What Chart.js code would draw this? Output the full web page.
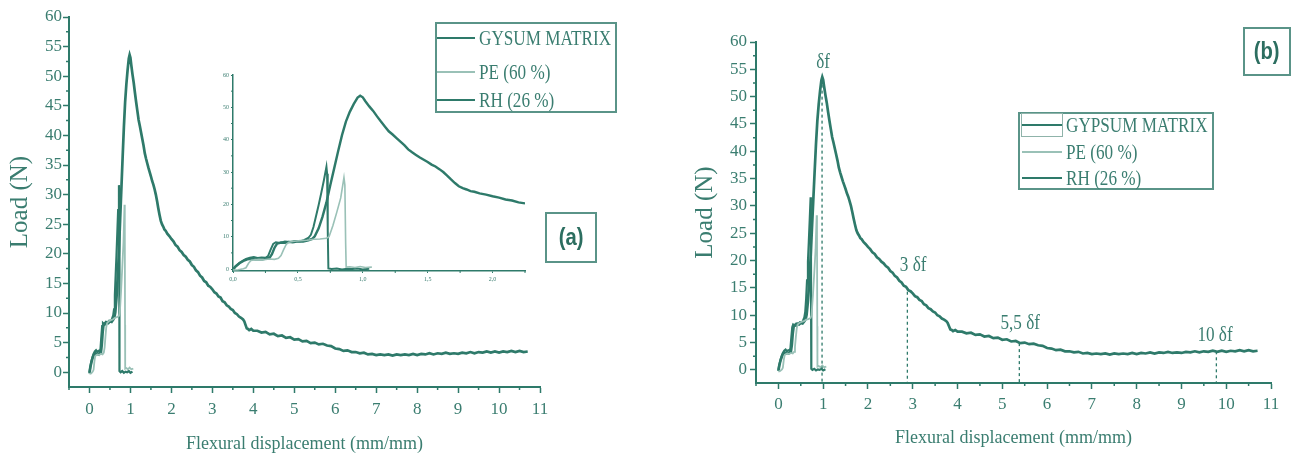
<!DOCTYPE html>
<html><head><meta charset="utf-8">
<script src="https://cdn.jsdelivr.net/npm/chart.js@4"></script>
<style>
body{margin:0;width:1291px;height:456px;background:#fff;position:relative;overflow:hidden;font-family:"Liberation Serif",serif;}
canvas{position:absolute;}
.box{position:absolute;border:2px solid #5a9488;box-sizing:border-box;}
.leg-line{position:absolute;height:2px;}
.leg-text{position:absolute;font-size:22px;line-height:22px;color:#3a7d70;transform:scaleX(0.78);transform-origin:0 50%;white-space:nowrap;}
.tag{display:flex;align-items:center;justify-content:center;font-family:"Liberation Sans",sans-serif;font-weight:bold;font-size:23px;color:#2c6e60;}
.tag span{display:inline-block;transform:scaleX(0.88);}
.samplebox{position:absolute;border:1px solid #8fb3aa;box-sizing:border-box;}
</style>
</head><body>
<canvas id="ca" width="650" height="456" style="left:0;top:0"></canvas>
<canvas id="ci" width="330" height="225" style="left:205px;top:65px"></canvas>
<canvas id="cb" width="641" height="456" style="left:650px;top:0"></canvas>
<div id="overlay"></div>
<script>
// ---------- data ----------
const legendA = ['GYSUM MATRIX', 'PE (60 %)', 'RH (26 %)'];
const legendB = ['GYPSUM MATRIX', 'PE (60 %)', 'RH (26 %)'];

const gypsumData = [[0,0],[0.02,0.9],[0.05,1.9],[0.08,2.7],[0.1,3.1],[0.13,3.5],[0.16,3.7],[0.19,3.4],[0.22,3.6],[0.25,3.5],[0.27,4.0],[0.29,6.0],[0.31,7.8],[0.33,8.3],[0.36,8.1],[0.4,8.5],[0.44,8.4],[0.48,8.7],[0.52,8.6],[0.55,9.0],[0.58,9.6],[0.6,10.6],[0.62,13.0],[0.64,16.4],[0.66,19.8],[0.68,23.5],[0.7,27.4],[0.72,31.6],[0.725,29.5],[0.73,12],[0.735,0.2],[0.76,0],[0.8,0.2],[0.84,-0.1],[0.88,0.1],[0.92,0],[0.96,0.2],[1.0,-0.1],[1.05,0.1]];

const peData = [[0,-0.3],[0.04,-0.2],[0.08,0.1],[0.1,0.4],[0.12,1.8],[0.14,2.7],[0.17,2.9],[0.2,3.0],[0.24,2.9],[0.28,3.1],[0.32,3.0],[0.35,3.3],[0.37,4.2],[0.39,6.0],[0.41,7.6],[0.43,8.3],[0.47,8.6],[0.52,8.8],[0.57,8.9],[0.62,9.2],[0.67,9.3],[0.72,9.5],[0.74,10.0],[0.77,13.5],[0.8,17.6],[0.83,22.0],[0.855,28.3],[0.862,26],[0.868,8],[0.872,0.6],[0.9,0.7],[0.94,0.5],[0.98,0.8],[1.02,0.5],[1.07,0.6]];

const rhData = [[0,-0.2],[0.02,0.8],[0.05,1.8],[0.08,2.5],[0.11,3.0],[0.14,3.2],[0.17,3.0],[0.2,3.1],[0.23,3.0],[0.26,3.3],[0.28,3.4],[0.3,4.6],[0.32,6.6],[0.34,7.9],[0.37,8.2],[0.4,8.1],[0.43,8.4],[0.46,8.3],[0.5,8.6],[0.54,8.5],[0.58,8.9],[0.61,9.3],[0.63,10.1],[0.66,12.6],[0.69,16.2],[0.72,20.6],[0.75,26.0],[0.78,31.2],[0.81,36.4],[0.84,41.4],[0.87,45.6],[0.9,48.6],[0.93,51.0],[0.96,53.0],[0.98,53.6],[1.0,53.1],[1.02,51.9],[1.05,50.3],[1.08,48.9],[1.11,47.2],[1.14,45.6],[1.17,44.1],[1.2,42.6],[1.23,41.6],[1.26,40.5],[1.29,39.4],[1.32,38.3],[1.35,37.0],[1.38,36.1],[1.41,35.3],[1.44,34.5],[1.47,33.8],[1.5,33.1],[1.53,32.3],[1.56,31.7],[1.59,30.9],[1.62,30.0],[1.65,28.9],[1.68,27.7],[1.71,26.6],[1.74,25.6],[1.77,25.0],[1.8,24.6],[1.83,24.1],[1.86,23.9],[1.9,23.4],[1.95,23.0],[2.0,22.5],[2.05,22.1],[2.1,21.5],[2.15,21.2],[2.2,20.6],[2.25,20.3],[2.3,19.8],[2.35,19.5],[2.4,19.0],[2.45,18.7],[2.5,18.1],[2.55,17.8],[2.6,17.2],[2.65,16.9],[2.7,16.3],[2.75,16.0],[2.8,15.4],[2.85,15.2],[2.9,14.6],[2.95,14.4],[3.0,14.0],[3.05,13.5],[3.1,13.3],[3.15,12.8],[3.2,12.6],[3.25,12.0],[3.3,11.8],[3.35,11.3],[3.4,11.1],[3.45,10.7],[3.5,10.5],[3.55,10.0],[3.6,9.8],[3.65,9.4],[3.7,9.2],[3.75,8.9],[3.78,8.6],[3.81,8.0],[3.84,7.4],[3.87,7.3],[3.9,7.1],[3.95,7.3],[4.0,7.0],[4.1,7.0],[4.2,6.7],[4.3,6.8],[4.4,6.4],[4.5,6.5],[4.6,6.1],[4.7,6.2],[4.8,5.8],[4.9,5.9],[5.0,5.5],[5.1,5.6],[5.2,5.2],[5.3,5.3],[5.4,4.9],[5.5,5.0],[5.6,4.7],[5.7,4.8],[5.8,4.5],[5.9,4.4],[6.0,4.0],[6.1,3.9],[6.2,3.6],[6.3,3.7],[6.4,3.4],[6.5,3.4],[6.6,3.2],[6.7,3.3],[6.8,3.0],[6.9,3.1],[7.0,2.9],[7.1,3.0],[7.2,2.9],[7.3,3.0],[7.4,2.8],[7.5,3.0],[7.6,2.9],[7.7,3.0],[7.8,2.9],[7.9,3.1],[8.0,2.9],[8.1,3.1],[8.2,3.0],[8.3,3.2],[8.4,3.0],[8.5,3.2],[8.6,3.1],[8.7,3.3],[8.8,3.1],[8.9,3.2],[9.0,3.1],[9.1,3.3],[9.2,3.2],[9.3,3.4],[9.4,3.2],[9.5,3.4],[9.6,3.3],[9.7,3.5],[9.8,3.3],[9.9,3.5],[10.0,3.3],[10.1,3.5],[10.2,3.4],[10.3,3.6],[10.4,3.4],[10.5,3.6],[10.6,3.4],[10.7,3.5]];

const xTicksMain = [0,1,2,3,4,5,6,7,8,9,10,11];
const xMinorMain = [-0.5,0.5,1.5,2.5,3.5,4.5,5.5,6.5,7.5,8.5,9.5,10.5];
const yTicksMain = [0,5,10,15,20,25,30,35,40,45,50,55,60];
const yMinorMain = [2.5,7.5,12.5,17.5,22.5,27.5,32.5,37.5,42.5,47.5,52.5,57.5];
const xTicksInset = [0,0.5,1,1.5,2];
const xMinorInset = [0.25,0.75,1.25,1.75,2.25];
const yTicksInset = [0,10,20,30,40,50,60];
const yMinorInset = [5,15,25,35,45,55];

const annoX = [0.975, 2.88, 5.38, 9.78];
const annoFromY = [52.2, 14.3, 4.9, 3.4];
const annoText = ['δf', '3 δf', '5,5 δf', '10 δf'];
const annoTextX = [1.0, 3.01, 5.4, 9.75];
const annoTextY = [56.3, 19.2, 8.6, 6.4];

// ---------- style ----------
const TEAL = '#2e7a6a';
const LIGHT = '#9ac1b7';
const TXT = '#3a7d70';
const seriesColors = [TEAL, LIGHT, TEAL];
const seriesWidths = [2.2, 1.8, 2.7];
const seriesData = [gypsumData, peData, rhData];

const minorTicks = {
  id: 'minorTicks',
  afterDraw(chart, args, o) {
    const {ctx, chartArea: a, scales: {x, y}} = chart;
    ctx.save(); ctx.strokeStyle = TEAL; ctx.lineWidth = o.w || 1.5;
    ctx.beginPath();
    (o.x || []).forEach(v => { const px = x.getPixelForValue(v); ctx.moveTo(px, a.bottom); ctx.lineTo(px, a.bottom + o.len); });
    (o.y || []).forEach(v => { const py = y.getPixelForValue(v); ctx.moveTo(a.left, py); ctx.lineTo(a.left - o.len, py); });
    ctx.stroke(); ctx.restore();
  }
};

const anno = {
  id: 'anno',
  afterDatasetsDraw(chart, args, o) {
    if (!o.on) return;
    const {ctx, chartArea: a, scales: {x, y}} = chart;
    ctx.save();
    ctx.strokeStyle = TEAL; ctx.lineWidth = 1.3; ctx.setLineDash([3, 3]);
    annoX.forEach((v, i) => {
      const px = x.getPixelForValue(v);
      ctx.beginPath(); ctx.moveTo(px, y.getPixelForValue(annoFromY[i])); ctx.lineTo(px, a.bottom); ctx.stroke();
    });
    ctx.setLineDash([]);
    ctx.fillStyle = TXT; ctx.font = '22px "Liberation Serif"'; ctx.textAlign = 'center'; ctx.textBaseline = 'middle';
    annoText.forEach((t, i) => {
      ctx.save();
      ctx.translate(x.getPixelForValue(annoTextX[i]), y.getPixelForValue(annoTextY[i]));
      ctx.scale(0.78, 1);
      ctx.fillText(t, 0, 0);
      ctx.restore();
    });
    ctx.restore();
  }
};

function makeChart(id, c) {
  return new Chart(document.getElementById(id), {
    type: 'line',
    data: { datasets: [1, 0, 2].map(i => ({
      data: seriesData[i].map(p => ({x: p[0], y: p[1]})),
      borderColor: seriesColors[i], borderWidth: seriesWidths[i] * (c.lineScale || 1),
      pointRadius: 0, tension: 0, fill: false
    })) },
    options: {
      responsive: false, animation: false, devicePixelRatio: 1,
      layout: { padding: c.pad },
      plugins: { legend: {display: false}, tooltip: {enabled: false},
        minorTicks: { x: c.xMinor, y: c.yMinor, len: c.minorLen, w: c.tickW },
        anno: { on: !!c.anno } },
      scales: {
        x: {
          type: 'linear', min: c.xMin, max: c.xMax,
          afterFit(s) { s.height = c.xH; },
          afterBuildTicks(s) { s.ticks = c.xTicks.map(v => ({value: v})); },
          ticks: { font: {family: 'Liberation Serif', size: c.tickSize}, color: TXT, padding: c.xPad, maxRotation: 0, autoSkip: false, callback: c.xFmt },
          grid: { display: true, drawOnChartArea: false, drawTicks: true, tickLength: c.tickLen, tickColor: TEAL, tickWidth: c.tickW },
          border: { display: true, color: TEAL, width: c.axisW },
          title: { display: !!c.xTitle, text: c.xTitle, color: TXT, font: {family: 'Liberation Serif', size: 18}, padding: {top: 0, bottom: c.xTitlePad} }
        },
        y: {
          type: 'linear', min: c.yMin, max: c.yMax,
          afterFit(s) { s.width = c.yW; },
          afterBuildTicks(s) { s.ticks = c.yTicks.map(v => ({value: v})); },
          ticks: { font: {family: 'Liberation Serif', size: c.tickSize}, color: TXT, padding: c.yPad, autoSkip: false, callback: v => String(v) },
          grid: { display: true, drawOnChartArea: false, drawTicks: true, tickLength: c.tickLen, tickColor: TEAL, tickWidth: c.tickW },
          border: { display: true, color: TEAL, width: c.axisW },
          title: { display: !!c.yTitle, text: c.yTitle, color: TXT, font: {family: 'Liberation Serif', size: 25}, padding: {top: c.yTitlePad, bottom: 0} }
        }
      }
    },
    plugins: [minorTicks, anno]
  });
}

const intFmt = v => String(v);

makeChart('ca', {
  pad: {left: 0, top: 17, right: 110, bottom: 0},
  xMin: -0.5, xMax: 11, yMin: -2.5, yMax: 60,
  xTicks: xTicksMain, yTicks: yTicksMain, xMinor: xMinorMain, yMinor: yMinorMain,
  xH: 69, yW: 69, tickSize: 17, tickLen: 6, minorLen: 3, tickW: 1.5, axisW: 2,
  xPad: 6, yPad: 1, xFmt: intFmt,
  xTitle: 'Flexural displacement (mm/mm)', xTitlePad: 1,
  yTitle: 'Load (N)', yTitlePad: 5
});

makeChart('ci', {
  pad: {left: 0, top: 10, right: 10, bottom: 0},
  xMin: 0, xMax: 2.25, yMin: -0.6, yMax: 60,
  xTicks: xTicksInset, yTicks: yTicksInset, xMinor: xMinorInset, yMinor: yMinorInset,
  xH: 19, yW: 28, tickSize: 6, tickLen: 2, minorLen: 2, tickW: 1, axisW: 1.5,
  xPad: 3, yPad: 2, xFmt: v => v.toFixed(1).replace('.', ','), lineScale: 0.9
});

makeChart('cb', {
  pad: {left: 0, top: 42, right: 20, bottom: 0},
  xMin: -0.5, xMax: 11, yMin: -2.4, yMax: 60,
  xTicks: xTicksMain, yTicks: yTicksMain, xMinor: xMinorMain, yMinor: yMinorMain,
  xH: 73, yW: 106, tickSize: 17, tickLen: 6, minorLen: 3, tickW: 1.5, axisW: 2,
  xPad: 5, yPad: 3, xFmt: intFmt,
  xTitle: 'Flexural displacement (mm/mm)', xTitlePad: 7,
  yTitle: 'Load (N)', yTitlePad: 40,
  anno: true
});

// ---------- legends & tags ----------
const ov = document.getElementById('overlay');
function el(cls, css, html) { const d = document.createElement('div'); d.className = cls; Object.assign(d.style, css); if (html) d.innerHTML = html; ov.appendChild(d); return d; }
function legend(names, box, rows, lx, lw, tx) {
  el('box', {left: box[0] + 'px', top: box[1] + 'px', width: box[2] + 'px', height: box[3] + 'px'});
  names.forEach((n, i) => {
    el('leg-line', {left: lx + 'px', top: (rows[i] - 1) + 'px', width: lw + 'px', background: seriesColors[i]});
    const t = el('leg-text', {left: tx + 'px', top: (rows[i] - 11) + 'px'});
    t.textContent = n;
  });
}
legend(legendA, [435, 22, 182, 91], [38, 72, 100], 437, 38, 479);
legend(legendB, [1018, 112, 196, 78], [125, 152, 178], 1022, 40, 1066);
el('samplebox', {left: '1021px', top: '113px', width: '42px', height: '24px'});
el('box tag', {left: '545px', top: '212px', width: '52px', height: '51px'}, '<span>(a)</span>');
el('box tag', {left: '1243px', top: '27px', width: '48px', height: '49px'}, '<span>(b)</span>');
</script>
</body></html>
